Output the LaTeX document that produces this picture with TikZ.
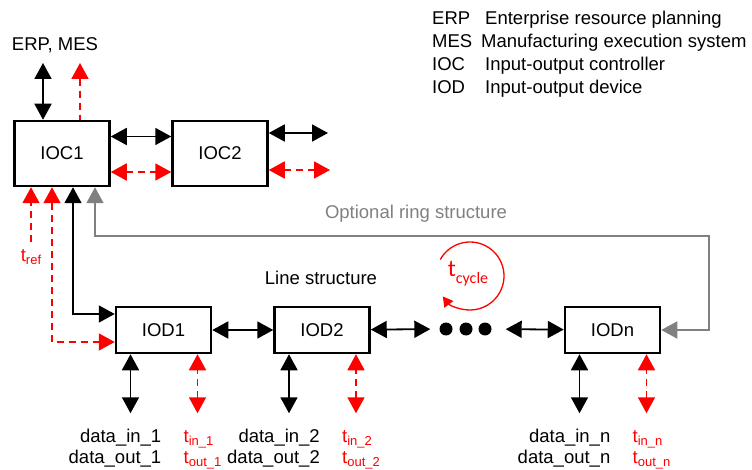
\documentclass[tikz,border=0pt]{standalone}
\usepackage{fontspec}
\setmainfont{Liberation Sans}
\newfontfamily\calfont{Carlito}
\usetikzlibrary{arrows.meta}

\newcommand{\tsub}[2]{#1\raisebox{-0.2em}{\fontsize{13}{13}\selectfont #2}}

\begin{document}
\begin{tikzpicture}[x=1pt, y=-1pt, >={Triangle[length=16pt,width=17pt]}]
\tikzstyle{every node}=[font=\fontsize{18.5}{22}\selectfont]
\tikzstyle{block}=[draw, line width=2.5pt, minimum width=95pt, minimum height=46pt, inner sep=0pt]
\tikzstyle{txt}=[inner sep=0pt]
\tikzstyle{link}=[line width=1.8pt, <->]
\tikzstyle{sync}=[link, red, dash pattern=on 7pt off 5pt]
\tikzstyle{ring}=[link, color=gray]
\tikzstyle{dot}=[circle, fill, minimum size=13pt, inner sep=0pt]

\useasboundingbox (0,0) rectangle (752,470);

% controllers
\node[block, minimum height=65pt] (IOC1) at (62,153.5) {IOC1};
\node[block, minimum height=65pt] (IOC2) at (220,153.5) {IOC2};

% devices
\node[block] (IOD1) at (163.5,330) {IOD1};
\node[block] (IOD2) at (322,330) {IOD2};
\node[block] (IODn) at (612.5,330) {IODn};
\node[dot] (d1) at (446,329) {};
\node[dot] (d2) at (466,329) {};
\node[dot] (d3) at (485,329) {};

% legend
\node[txt, anchor=base west] (erp) at (432,24.5) {ERP};
\node[txt, anchor=base west] (mes) at (432,47.5) {MES};
\node[txt, anchor=base west] (ioc) at (432,70.5) {IOC};
\node[txt, anchor=base west] (iod) at (432,93.5) {IOD};
\node[txt, anchor=base west] (erpd) at (485,24.5) {Enterprise resource planning};
\node[txt, anchor=base west] (mesd) at (481,47.5) {Manufacturing execution system};
\node[txt, anchor=base west] (iocd) at (485,70.5) {Input-output controller};
\node[txt, anchor=base west] (iodd) at (485,93.5) {Input-output device};

% labels
\node[txt] (top) at (55,45) {ERP, MES};
\node[txt, gray] (ringlbl) at (416,214) {Optional ring structure};
\node[txt] (linelbl) at (321,278) {Line structure};
\node[txt, red] (treflbl) at (31,257) {\tsub{t}{ref}};
\node[txt, red, font=\calfont\fontsize{24}{24}\selectfont] (tcyc) at (468,274) {t\raisebox{-0.3em}{\fontsize{16}{16}\selectfont cycle}};

% connectors
\coordinate (erpB) at (43,63);
\coordinate (erpR) at (80,63);
\draw[link] (erpB) -- (erpB |- IOC1.north);
\draw[sync, <-] (erpR) -- (erpR |- IOC1.north);

\draw[link] ([yshift=17pt]IOC1.east) -- ([yshift=17pt]IOC2.west);
\draw[sync] ([yshift=-18.5pt]IOC1.east) -- ([yshift=-18.5pt]IOC2.west);
\coordinate (outB) at (328,133);
\coordinate (outR) at (330,170);
\draw[link] (outB -| IOC2.east) -- (outB);
\draw[sync] (outR -| IOC2.east) -- (outR);

\coordinate (tref) at (31,242);
\draw[sync, ->] (tref) -- (tref |- IOC1.south);

\coordinate (busR) at (52,342);
\coordinate (busB) at (73,314);
\draw[sync] (IOC1.south -| busR) -- (busR) -- (busR -| IOD1.west);
\draw[link] (IOC1.south -| busB) -- (busB) -- (busB -| IOD1.west);

\coordinate (ringL) at (95,236);
\coordinate (ringR) at (709,236);
\draw[ring] (IOC1.south -| ringL) -- (ringL) -- (ringR) -- (ringR |- IODn.east) -- (IODn.east);

\draw[link] (IOD1) -- (IOD2);
\draw[link, shorten >=9pt] (IOD2) -- (d1);
\draw[link, shorten <=14pt] (d3) -- (IODn);

\draw[red, line width=1.3pt, -{Triangle[length=10pt,width=11pt]}]
  (470,276) ++(-151:34) arc[start angle=-151, end angle=143, radius=34];

\foreach \k in {1,2,n} {
  \coordinate (din\k) at ([xshift=-33pt, yshift=-59pt]IOD\k.south);
  \coordinate (tin\k) at ([xshift=34pt, yshift=-59pt]IOD\k.south);
  \draw[link] (din\k) -- (din\k |- IOD\k.south);
  \draw[sync] (tin\k) -- (tin\k |- IOD\k.south);
  \node[txt, anchor=base east] (lin\k) at ([xshift=-2pt, yshift=-88pt]IOD\k.south) {data\_in\_\k};
  \node[txt, anchor=base east] (lout\k) at ([xshift=-2pt, yshift=-109pt]IOD\k.south) {data\_out\_\k};
  \node[txt, red, anchor=base west] (tin\k lbl) at ([xshift=20pt, yshift=-88pt]IOD\k.south) {\tsub{t}{in\_\k}};
  \node[txt, red, anchor=base west] (tout\k lbl) at ([xshift=20pt, yshift=-109pt]IOD\k.south) {\tsub{t}{out\_\k}};
}

\end{tikzpicture}
\end{document}
